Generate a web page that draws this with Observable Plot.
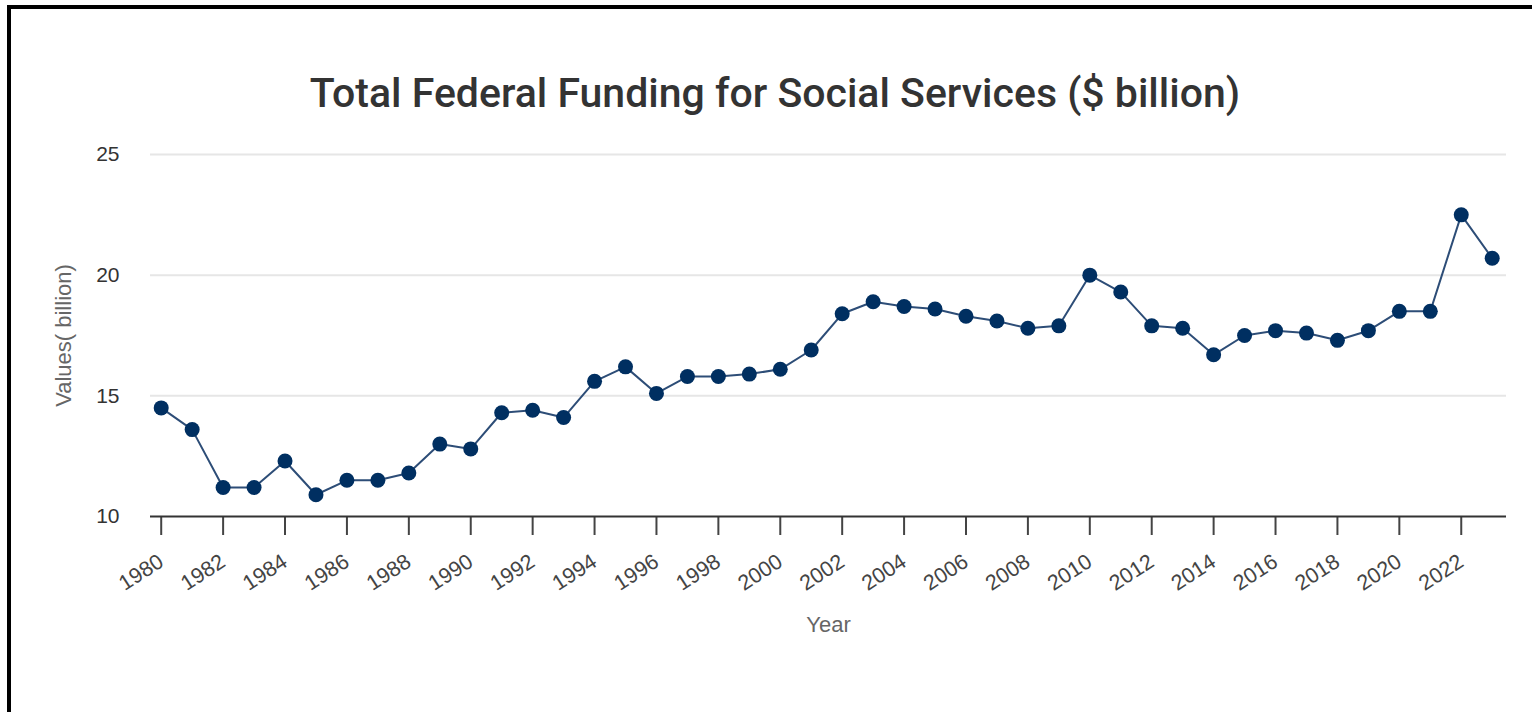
<!DOCTYPE html>
<html>
<head>
<meta charset="utf-8">
<script src="https://cdn.jsdelivr.net/npm/d3@7"></script>
<script src="https://cdn.jsdelivr.net/npm/@observablehq/plot@0.6"></script>
<style>
  html, body { margin: 0; padding: 0; width: 1532px; height: 712px; overflow: hidden; background: #fff; }
  #frame { position: absolute; left: 7px; top: 5px; width: 1560px; height: 800px; border: 4.5px solid #000; box-sizing: border-box; }
  #title { position: absolute; left: 0; top: 73px; width: 1550px; text-align: center; font-family: Roboto, "Noto Sans", sans-serif; font-weight: 500; font-size: 41px; line-height: 41px; color: #333; }
  #chart { position: absolute; left: 0; top: 120px; }
</style>
</head>
<body>
<div id="frame"></div>
<div id="title">Total Federal Funding for Social Services ($ billion)</div>
<div id="chart"></div>
<script>
const years = [1980,1981,1982,1983,1984,1985,1986,1987,1988,1989,1990,1991,1992,1993,1994,1995,1996,1997,1998,1999,2000,2001,2002,2003,2004,2005,2006,2007,2008,2009,2010,2011,2012,2013,2014,2015,2016,2017,2018,2019,2020,2021,2022,2023];
const values = [14.5,13.6,11.2,11.2,12.3,10.9,11.5,11.5,11.8,13.0,12.8,14.3,14.4,14.1,15.6,16.2,15.1,15.8,15.8,15.9,16.1,16.9,18.4,18.9,18.7,18.6,18.3,18.1,17.8,17.9,20.0,19.3,17.9,17.8,16.7,17.5,17.7,17.6,17.3,17.7,18.5,18.5,22.5,20.7];
const xTicks = [1980,1982,1984,1986,1988,1990,1992,1994,1996,1998,2000,2002,2004,2006,2008,2010,2012,2014,2016,2018,2020,2022];
const yTicks = [10,15,20,25];
const gridValues = [15,20,25];
const xLabel = "Year";
const yLabel = "Values( billion)";

const data = years.map((y, i) => ({year: y, value: values[i]}));
const labelFont = "'Liberation Sans', Arial, sans-serif";

const chart = Plot.plot({
  width: 1532,
  height: 592,
  marginLeft: 150,
  marginRight: 26,
  marginTop: 34,
  marginBottom: 196,
  style: { fontFamily: labelFont, background: "transparent", overflow: "visible" },
  x: { type: "linear", domain: [1979.654, 2023.462] },
  y: { domain: [10, 25] },
  marks: [
    Plot.ruleY(gridValues, { stroke: "#e6e6e6", strokeWidth: 2 }),
    Plot.axisY({ ticks: yTicks, tickSize: 0, tickPadding: 31, fontSize: 21, fill: "#333", label: null }),
    Plot.axisX({ ticks: xTicks, tickFormat: d => String(d), tickRotate: -33, tickSize: 19, tickPadding: 24, fontSize: 21.5, fill: "#444", stroke: "#444", strokeWidth: 2, label: null }),
    Plot.ruleY([10], { stroke: "#333", strokeWidth: 2 }),
    Plot.line(data, { x: "year", y: "value", stroke: "#2d4d77", strokeWidth: 2 }),
    Plot.dot(data, { x: "year", y: "value", r: 7.5, fill: "#002f61", stroke: "none" }),
    Plot.text([xLabel], { frameAnchor: "bottom", dy: 115, fontSize: 22, fill: "#666" }),
    Plot.text([yLabel], { frameAnchor: "left", textAnchor: "middle", dx: -87, rotate: -90, fontSize: 22, fill: "#666" })
  ]
});
document.getElementById("chart").appendChild(chart);
</script>
</body>
</html>
